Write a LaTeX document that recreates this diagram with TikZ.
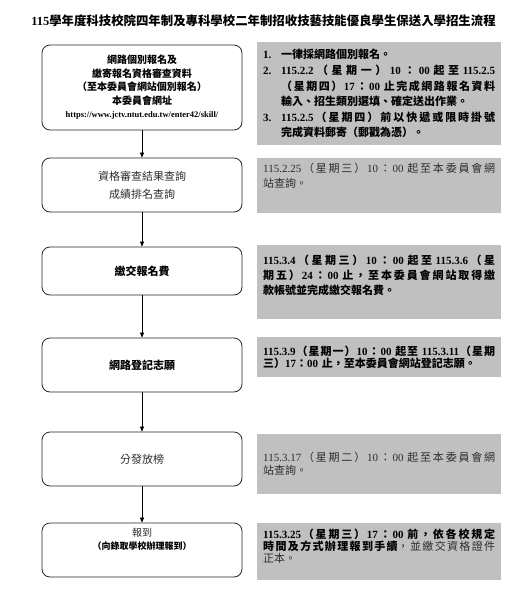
\documentclass[tikz,border=0pt]{standalone}
\usepackage{fontspec}
\setmainfont{Liberation Serif}
\newfontfamily\cjk{Noto Sans CJK TC}
\usetikzlibrary{arrows.meta}

\definecolor{notegray}{RGB}{192,192,192}
\definecolor{softtext}{RGB}{45,45,45}

% Han characters and full-width punctuation go to the CJK font
\XeTeXinterchartokenstate=1
\newXeTeXintercharclass\hanclass
\newcount\hancnt
\hancnt="3000 \loop\ifnum\hancnt<"3040 \XeTeXcharclass\hancnt=\hanclass \advance\hancnt by 1 \repeat
\hancnt="4E00 \loop\ifnum\hancnt<"A000 \XeTeXcharclass\hancnt=\hanclass \advance\hancnt by 1 \repeat
\hancnt="FF00 \loop\ifnum\hancnt<"FF61 \XeTeXcharclass\hancnt=\hanclass \advance\hancnt by 1 \repeat
\XeTeXinterchartoks 0 \hanclass = {\hskip0pt plus 1pt\cjk}
\XeTeXinterchartoks 4095 \hanclass = {\cjk}
\XeTeXinterchartoks \hanclass \hanclass = {\hskip0pt plus 1pt\cjk}
\XeTeXinterchartoks \hanclass 0 = {\rmfamily\hskip0pt plus 1pt}
\XeTeXinterchartoks \hanclass 4095 = {\rmfamily}

% a full, spread out line of a note
\newcommand\jline[1]{\makebox[232pt][s]{#1}}
\newcommand\itemno[1]{\makebox[18pt][l]{#1}}

\begin{document}
\begin{tikzpicture}[x=1pt, y=-1pt, >={Triangle[length=5pt,width=4pt]},
    flowbox/.style={draw=black!85, line width=0.8pt, rounded corners=8pt,
      minimum width=200pt, align=center, inner sep=2pt},
    notebox/.style={fill=notegray, anchor=north west, text width=232pt,
      align=left, inner xsep=6pt, inner ysep=2pt},
    link/.style={->, line width=0.6pt}]
  \useasboundingbox (0,0) rectangle (524,592);

  \node[font=\bfseries\fontsize{12.4}{15}\selectfont] (title) at (263.5,21)
    {115學年度科技校院四年制及專科學校二年制招收技藝技能優良學生保送入學招生流程};

  % steps
  \node[flowbox, minimum height=85pt, font=\bfseries\fontsize{10}{13.5}\selectfont] (s1) at (142,87.5)
    {網路個別報名及\\繳寄報名資格審查資料\\（至本委員會網站個別報名）\\本委員會網址\\
     {\fontsize{8.5}{10}\selectfont https://www.jctv.ntut.edu.tw/enter42/skill/}};
  \node[flowbox, minimum height=54pt, text=softtext, font=\fontsize{11}{18}\selectfont] (s2) at (142,185)
    {資格審查結果查詢\\成績排名查詢};
  \node[flowbox, minimum height=48pt, font=\bfseries\fontsize{11}{14}\selectfont] (s3) at (142,271)
    {繳交報名費};
  \node[flowbox, minimum height=54pt, font=\bfseries\fontsize{11}{14}\selectfont] (s4) at (142,365)
    {網路登記志願};
  \node[flowbox, minimum height=54pt, text=softtext, font=\fontsize{11}{14}\selectfont] (s5) at (142,459)
    {分發放榜};
  \node[flowbox, minimum height=54pt, font=\fontsize{10}{13}\selectfont] (s6) at (142,550)
    {{\color{softtext}報到}\\{\bfseries\fontsize{9}{13}\selectfont（向錄取學校辦理報到）}\\[10pt]\mbox{}};

  % notes
  \node[notebox, minimum height=103pt, font=\bfseries\fontsize{11}{15.6}\selectfont] (n1) at (257,42)
    {\itemno{1.}一律採網路個別報名。\\
     \jline{\itemno{2.}115.2.2（星期一）10：00 起至 115.2.5}\\
     \jline{\hspace*{18pt}（星期四）17：00 止完成網路報名資料}\\
     \hspace*{18pt}輸入、招生類別選填、確定送出作業。\\
     \jline{\itemno{3.}115.2.5（星期四）前以快遞或限時掛號}\\
     \hspace*{18pt}完成資料郵寄（郵戳為憑）。};
  \node[notebox, minimum height=55pt, text=softtext, font=\fontsize{11}{15}\selectfont] (n2) at (257,158)
    {\jline{115.2.25（星期三）10：00 起至本委員會網}\\站查詢。\\[5pt]\mbox{}};
  \node[notebox, minimum height=74pt, font=\bfseries\fontsize{11}{15}\selectfont] (n3) at (257,245)
    {\jline{115.3.4（星期三）10：00 起至 115.3.6（星}\\
     \jline{期五）24：00 止，至本委員會網站取得繳}\\
     款帳號並完成繳交報名費。\\ \mbox{}};
  \node[notebox, minimum height=40pt, font=\bfseries\fontsize{11}{11.7}\selectfont] (n4) at (257,337)
    {\jline{115.3.9（星期一）10：00 起至 115.3.11（星期}\\
     三）17：00 止，至本委員會網站登記志願。};
  \node[notebox, minimum height=60pt, text=softtext, font=\fontsize{11}{13}\selectfont] (n5) at (257,434)
    {\jline{115.3.17（星期二）10：00 起至本委員會網}\\站查詢。};
  \node[notebox, minimum height=57pt, font=\fontsize{11}{12}\selectfont] (n6) at (257,523)
    {\jline{\bfseries 115.3.25（星期三）17：00 前，依各校規定}\\
     \jline{{\bfseries 時間及方式辦理報到手續}{\color{softtext}，並繳交資格證件}}\\
     {\color{softtext}正本。}\\ \mbox{}};

  % connectors
  \foreach \a/\b in {s1/s2, s2/s3, s3/s4, s4/s5, s5/s6}
    \draw[link] (\a.south) -- (\b.north);
\end{tikzpicture}
\end{document}
